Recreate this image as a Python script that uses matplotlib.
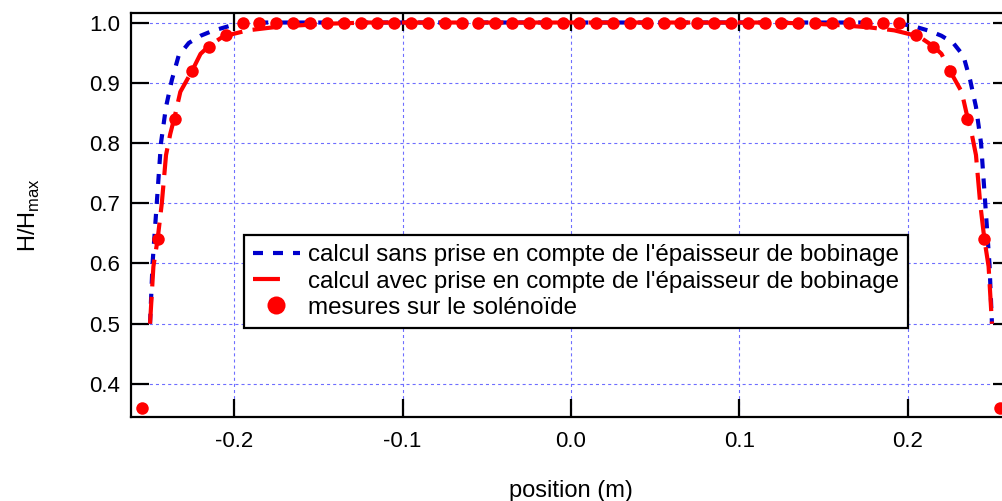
import matplotlib
matplotlib.use('Agg')
import matplotlib.pyplot as plt
from matplotlib.lines import Line2D

plt.rcParams['font.family'] = ['Liberation Sans', 'DejaVu Sans']
plt.rcParams['axes.unicode_minus'] = False
plt.rcParams['lines.scale_dashes'] = False

# ---- data -------------------------------------------------------------
x_meas = [-0.255, -0.245, -0.235, -0.225, -0.215, -0.205,
          -0.195, -0.185, -0.175, -0.165, -0.155, -0.145, -0.135, -0.125,
          -0.115, -0.105, -0.095, -0.085, -0.075, -0.065, -0.055, -0.045,
          -0.035, -0.025, -0.015, -0.005, 0.005, 0.015, 0.025, 0.035,
          0.045, 0.055, 0.065, 0.075, 0.085, 0.095, 0.105, 0.115, 0.125,
          0.135, 0.145, 0.155, 0.165, 0.175, 0.185, 0.195,
          0.205, 0.215, 0.225, 0.235, 0.245, 0.255]
y_meas = [0.36, 0.64, 0.84, 0.92, 0.96, 0.98,
          1.0, 1.0, 1.0, 1.0, 1.0, 1.0, 1.0, 1.0,
          1.0, 1.0, 1.0, 1.0, 1.0, 1.0, 1.0, 1.0,
          1.0, 1.0, 1.0, 1.0, 1.0, 1.0, 1.0, 1.0,
          1.0, 1.0, 1.0, 1.0, 1.0, 1.0, 1.0, 1.0, 1.0,
          1.0, 1.0, 1.0, 1.0, 1.0, 1.0, 1.0,
          0.98, 0.96, 0.92, 0.84, 0.64, 0.36]

x_sans = [-0.250, -0.2485, -0.246, -0.2435, -0.2405, -0.237, -0.233, -0.227,
          -0.220, -0.213, -0.202, -0.190,
          0.190, 0.202, 0.213, 0.220, 0.227, 0.233, 0.237, 0.2405, 0.2435,
          0.246, 0.2485, 0.250]
y_sans = [0.50, 0.60, 0.70, 0.80, 0.86, 0.905, 0.945, 0.966,
          0.978, 0.986, 0.995, 1.0,
          1.0, 0.995, 0.986, 0.978, 0.966, 0.945, 0.905, 0.86, 0.80,
          0.70, 0.60, 0.50]

x_avec = [-0.250, -0.248, -0.2455, -0.243, -0.2405, -0.238, -0.235, -0.232,
          -0.225, -0.220, -0.215, -0.2065, -0.192, -0.177, -0.163, -0.145,
          -0.120,
          0.120, 0.145, 0.163, 0.177, 0.192, 0.2065, 0.215, 0.220, 0.225,
          0.232, 0.235, 0.238, 0.2405, 0.243, 0.2455, 0.248, 0.250]
y_avec = [0.50, 0.595, 0.64, 0.70, 0.78, 0.815, 0.848, 0.885,
          0.92, 0.948, 0.961, 0.977, 0.987, 0.992, 0.995, 0.998,
          1.0,
          1.0, 0.998, 0.995, 0.992, 0.987, 0.977, 0.961, 0.948, 0.92,
          0.885, 0.848, 0.815, 0.78, 0.70, 0.64, 0.595, 0.50]

x_ticks = [-0.2, -0.1, 0.0, 0.1, 0.2]
y_ticks = [0.4, 0.5, 0.6, 0.7, 0.8, 0.9, 1.0]

labels = ["calcul sans prise en compte de l'épaisseur de bobinage",
          "calcul avec prise en compte de l'épaisseur de bobinage",
          "mesures sur le solénoïde"]

# ---- styles -------------------------------------------------------------
BLUE = '#0000CC'
RED = '#FF0000'
blue_dash = (7.2, 7.2)
red_dash = (19.4, 7.5)

fig = plt.figure(figsize=(10.03, 5.01), dpi=100)
ax = fig.add_axes([131 / 1003, 1 - 417 / 501, 880 / 1003, 404.3 / 501])

ax.plot(x_sans, y_sans, color=BLUE, lw=3, dashes=blue_dash,
        dash_capstyle='butt', zorder=3)
ax.plot(x_avec, y_avec, color=RED, lw=3, dashes=red_dash,
        dash_capstyle='butt', zorder=4)
ax.plot(x_meas, y_meas, ls='none', marker='o', ms=9, color=RED,
        markeredgewidth=0, zorder=5, clip_on=False)

ax.set_xlim(-0.2613, 0.2613)
ax.set_ylim(0.3452, 1.0163)
ax.set_xticks(x_ticks)
ax.set_xticklabels([f"{v:.1f}" for v in x_ticks])
ax.set_yticks(y_ticks)
ax.set_yticklabels([f"{v:.1f}" for v in y_ticks])

ax.grid(True, color='#6E6EFF', lw=0.8, ls=(0, (2.2, 2.2)), zorder=1)
ax.set_axisbelow(True)

for sp in ax.spines.values():
    sp.set_linewidth(1.6)
ax.tick_params(which='major', direction='in', top=True, right=True,
               length=13, width=1.6, labelsize=16, color='black')
ax.tick_params(axis='y', pad=8)
ax.tick_params(axis='x', pad=10)

ax.set_xlabel('position (m)', fontsize=17)
ax.xaxis.label.set_va('center')
ax.xaxis.set_label_coords(0.5, -0.183)
ax.set_ylabel(r'H/H$_{\mathregular{max}}$', fontsize=17)
ax.yaxis.label.set_va('center')
ax.yaxis.set_label_coords(-0.116, 0.5)

handles = [
    Line2D([], [], color=BLUE, lw=3, dashes=blue_dash, dash_capstyle='butt'),
    Line2D([], [], color=RED, lw=3, dashes=(19.4, 40), dash_capstyle='butt'),
    Line2D([], [], ls='none', marker='o', ms=13, color=RED, markeredgewidth=0),
]
leg = ax.legend(handles, labels, loc='upper left',
                bbox_to_anchor=(0.128, 0.450), borderaxespad=0,
                fontsize=17.4, frameon=True, fancybox=False, framealpha=1,
                edgecolor='black', handlelength=1.95, handletextpad=0.33,
                borderpad=0.38, labelspacing=0.18)
leg.get_frame().set_linewidth(1.6)
leg.set_zorder(10)

fig.savefig('out.png', dpi=100)
